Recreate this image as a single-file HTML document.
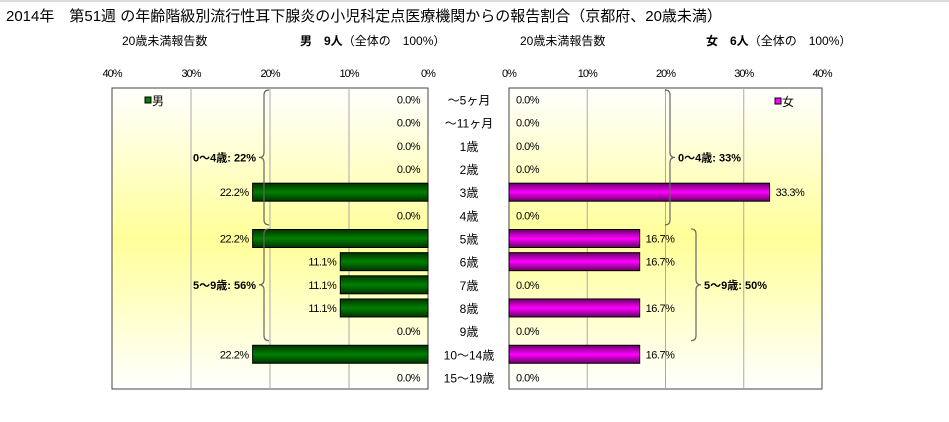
<!DOCTYPE html>
<html><head><meta charset="utf-8"><style>
body{margin:0;width:949px;height:417px;background:#fff;overflow:hidden;font-family:"Liberation Sans","Noto Sans CJK JP",sans-serif;}
svg text{font-family:"Liberation Sans","Noto Sans CJK JP",sans-serif;}
</style></head><body>
<svg id="c" width="949" height="417" xmlns="http://www.w3.org/2000/svg">
<defs>
<linearGradient id="bg" x1="0" y1="0" x2="0" y2="1">
<stop offset="0" stop-color="#ffffff"/><stop offset="0.5" stop-color="#ffff99"/><stop offset="1" stop-color="#ffffff"/></linearGradient>
<linearGradient id="gm" x1="0" y1="0" x2="0" y2="1">
<stop offset="0" stop-color="#003300"/><stop offset="0.5" stop-color="#008000"/><stop offset="1" stop-color="#003300"/></linearGradient>
<linearGradient id="gf" x1="0" y1="0" x2="0" y2="1">
<stop offset="0" stop-color="#660066"/><stop offset="0.5" stop-color="#ff00ff"/><stop offset="1" stop-color="#660066"/></linearGradient>
</defs>
<rect x="0" y="0" width="949" height="2" fill="#ddd"/>
<text x="6" y="21" font-size="15">2014年　第51週 の年齢階級別流行性耳下腺炎の小児科定点医療機関からの報告割合（京都府、20歳未満）</text>
<text x="122" y="45" font-size="12">20歳未満報告数</text>
<text x="300" y="45" font-size="12"><tspan font-weight="bold">男　9人</tspan>（全体の　100%）</text>
<text x="520" y="45" font-size="12">20歳未満報告数</text>
<text x="706" y="45" font-size="12"><tspan font-weight="bold">女　6人</tspan>（全体の　100%）</text>
<g id="g"></g>
</svg>
<script>
const categories=["～5ヶ月","～11ヶ月","1歳","2歳","3歳","4歳","5歳","6歳","7歳","8歳","9歳","10～14歳","15～19歳"];
const maleValues=[0,0,0,0,22.2,0,22.2,11.1,11.1,11.1,0,22.2,0];
const femaleValues=[0,0,0,0,33.3,0,16.7,16.7,0,16.7,0,16.7,0];
const tickValues=[0,10,20,30,40];
const tickLabels=["0%","10%","20%","30%","40%"];
const maleGroups=[{label:"0～4歳: 22%",from:0,to:5},{label:"5～9歳: 56%",from:6,to:10}];
const femaleGroups=[{label:"0～4歳: 33%",from:0,to:5},{label:"5～9歳: 50%",from:6,to:10}];

const NS="http://www.w3.org/2000/svg";
const gRoot=document.getElementById('g');
const plotTop=88,plotBot=389,rowH=(plotBot-plotTop)/categories.length;
const L0=428,Lw=316,R0=509,Rw=313,maxV=40;
const xL=v=>L0-v/maxV*Lw, xR=v=>R0+v/maxV*Rw, yC=i=>plotTop+rowH*(i+0.5);
function el(t,a,txt){const e=document.createElementNS(NS,t);for(const k in a)e.setAttribute(k,a[k]);if(txt!==undefined)e.textContent=txt;gRoot.appendChild(e);return e;}
[[xL(maxV),"left"],[R0,"right"]].forEach(([x0,s])=>{
  const e=el('rect',{x:x0,y:plotTop,width:s=="left"?Lw:Rw,height:plotBot-plotTop,fill:'url(#bg)',stroke:'#444','stroke-width':1});
  
  
});
tickValues.forEach((v,i)=>{
  if(v>0&&v<maxV){
    const a=el('line',{x1:xL(v),x2:xL(v),y1:plotTop,y2:plotBot,stroke:'#aaa'});
    
    
    const b=el('line',{x1:xR(v),x2:xR(v),y1:plotTop,y2:plotBot,stroke:'#aaa'});
    
    
  }
  const t1=el('text',{x:xL(v),y:77,'font-size':11,'text-anchor':'middle','letter-spacing':'-1'},tickLabels[i]);
  
  
  const t2=el('text',{x:xR(v),y:77,'font-size':11,'text-anchor':'middle','letter-spacing':'-1'},tickLabels[i]);
  
  
});
categories.forEach((c,i)=>{
  const y=yC(i);
  const ct=el('text',{x:469,y:y+5,'font-size':12,'text-anchor':'middle'},c);
  
  
  const m=maleValues[i],f=femaleValues[i];
  if(m>0){const b=el('rect',{x:xL(m),y:y-9,width:L0-xL(m),height:18,fill:'url(#gm)',stroke:'#000'});
    
    }
  const mt=el('text',{x:m>0?xL(m)-4:L0-8,y:y+4,'font-size':11,'text-anchor':'end','letter-spacing':'-0.5'},m.toFixed(1)+'%');
  
  
  if(f>0){const b=el('rect',{x:R0,y:y-9,width:xR(f)-R0,height:18,fill:'url(#gf)',stroke:'#000'});
    
    }
  const ft=el('text',{x:f>0?xR(f)+6:R0+7,y:y+4,'font-size':11,'letter-spacing':'-0.5'},f.toFixed(1)+'%');
  
  
});
function brace(x,y1,y2,dir){const m=(y1+y2)/2,d=dir*5;
  return `M${x+d},${y1} Q${x},${y1} ${x},${y1+5} L${x},${m-5} Q${x},${m} ${x-d},${m} Q${x},${m} ${x},${m+5} L${x},${y2-5} Q${x},${y2} ${x+d},${y2}`;}
maleGroups.forEach(gr=>{
  const y1=plotTop+rowH*gr.from+2,y2=plotTop+rowH*(gr.to+1)-2;
  const p=el('path',{d:brace(264,y1,y2,1),fill:'none',stroke:'#666','stroke-width':1.2});
  
  
  const t=el('text',{x:256,y:(y1+y2)/2+4,'font-size':11,'font-weight':'bold','text-anchor':'end'},gr.label);
  
  
});
femaleGroups.forEach((gr,k)=>{
  const y1=plotTop+rowH*gr.from+2,y2=plotTop+rowH*(gr.to+1)-2,x=k==0?670:696;
  const p=el('path',{d:brace(x,y1,y2,-1),fill:'none',stroke:'#666','stroke-width':1.2});
  
  
  const t=el('text',{x:x+8,y:(y1+y2)/2+4,'font-size':11,'font-weight':'bold'},gr.label);
  
  
});
const lm=el('rect',{x:145,y:97,width:6,height:6,fill:'#008000',stroke:'#000'});


const lmt=el('text',{x:152,y:105,'font-size':12},'男');


const lf=el('rect',{x:775,y:98,width:6,height:6,fill:'#ff00ff',stroke:'#000'});


const lft=el('text',{x:782,y:106,'font-size':12},'女');


</script>
</body></html>
